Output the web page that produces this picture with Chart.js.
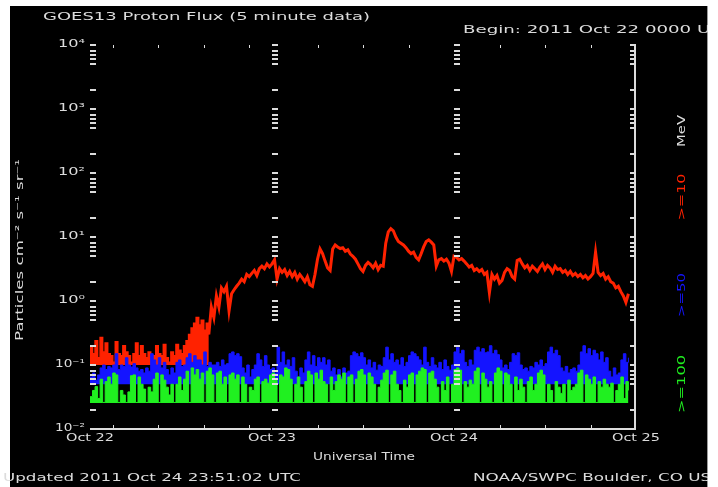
<!DOCTYPE html>
<html>
<head>
<meta charset="utf-8">
<script src="https://cdn.jsdelivr.net/npm/chart.js@4.4.0/dist/chart.umd.min.js"></script>
<style>
html,body{margin:0;padding:0;background:#fff;}
canvas{display:block;}
</style>
</head>
<body>
<canvas id="goes" width="718" height="487"></canvas>
<script>
'use strict'

// one value every 20 minutes from 2011 Oct 22 00:00 UTC
var stepHours = 1 / 3;
// the >=10 MeV trace is a dense noisy band until this sample
var bandEnd = 47;

var p10 = [
  0.2, 0.15, 0.24, 0.13, 0.27, 0.16, 0.22, 0.15, 0.14, 0.11, 0.23, 0.15,
  0.14, 0.2, 0.16, 0.14, 0.11, 0.15, 0.22, 0.14, 0.2, 0.15, 0.13, 0.16,
  0.11, 0.14, 0.2, 0.15, 0.14, 0.21, 0.13, 0.11, 0.16, 0.14, 0.21, 0.17,
  0.15, 0.2, 0.24, 0.3, 0.38, 0.45, 0.55, 0.42, 0.5, 0.35, 0.45, 0.3,
  0.8, 0.55, 1.2, 0.8, 1.6, 1.4, 1.7, 0.7, 1.3, 1.5, 1.7, 1.9,
  2.2, 2.0, 2.6, 2.4, 2.7, 3.0, 2.5, 3.2, 3.5, 3.2, 3.8, 3.4,
  3.8, 4.4, 2.2, 3.2, 2.8, 3.1, 2.5, 2.9, 2.4, 2.8, 2.2, 2.6,
  2.3, 2.0, 2.4, 1.8, 1.7, 2.6, 4.5, 6.5, 5.5, 4.2, 3.3, 3.0,
  6.5, 7.5, 7.0, 6.6, 6.8, 6.0, 6.3, 5.4, 5.0, 4.5, 3.8, 3.2,
  2.9, 3.6, 4.0, 3.7, 3.3, 3.9, 3.1, 3.6,
  3.5, 8.0, 12.0, 13.5, 12.5, 10.0, 8.5, 8.0,
  7.5, 6.8, 6.0, 5.5, 5.8, 4.8, 4.4,
  5.5, 7.0, 8.5, 9.0, 8.3, 7.5, 3.5, 4.4,
  4.6, 4.2, 4.5, 3.9, 2.9, 5.0, 4.8, 4.4, 4.6, 4.2,
  3.8, 3.4, 3.6, 3.0, 3.2, 2.9, 3.1, 2.6,
  2.8, 1.35, 2.6, 2.2, 2.5, 1.9, 2.1, 2.8, 3.2, 3.0,
  2.4, 2.2, 4.3, 4.5, 3.8, 3.3, 3.6, 3.0, 3.5, 3.2, 2.9, 3.4,
  3.8, 3.1, 3.6, 3.3, 2.8, 3.5, 3.1, 3.2, 2.8, 3.0, 2.6, 2.9,
  2.5, 2.7, 2.4, 2.6, 2.3, 2.5, 2.2, 2.4, 2.7, 5.8, 2.8, 2.5,
  2.7, 2.2, 2.4, 2.0, 1.9, 1.6, 1.7, 1.4, 1.2, 0.95, 1.3
];

var p50 = [
  0.065, 0.075, 0.058, 0.07, 0.09, 0.1, 0.085, 0.095, 0.09, 0.1, 0.15, 0.085,
  0.1, 0.095, 0.13, 0.1, 0.093, 0.105, 0.09, 0.08, 0.085, 0.075, 0.09, 0.08, 0.15,
  0.12, 0.1, 0.13, 0.09, 0.11, 0.085, 0.07, 0.09, 0.075, 0.11, 0.12, 0.095, 0.1,
  0.13, 0.15, 0.11, 0.14, 0.12, 0.12, 0.1, 0.16, 0.095, 0.11, 0.1,
  0.1, 0.11, 0.095, 0.12, 0.1, 0.105, 0.15, 0.16, 0.14, 0.15, 0.135,
  0.09, 0.075, 0.1, 0.065, 0.085, 0.1, 0.15, 0.12, 0.095, 0.14, 0.1,
  0.085, 0.09, 0.075, 0.19, 0.11, 0.16, 0.1, 0.12, 0.095, 0.13,
  0.08, 0.065, 0.09, 0.075, 0.12, 0.16, 0.1, 0.14, 0.095, 0.13,
  0.11, 0.13, 0.1, 0.12, 0.08, 0.09, 0.07, 0.085, 0.065, 0.09, 0.075, 0.08,
  0.14, 0.16, 0.15, 0.135, 0.155, 0.13, 0.1, 0.12, 0.09, 0.11, 0.083, 0.1, 0.095,
  0.13, 0.19, 0.12, 0.15, 0.11, 0.12, 0.1, 0.13, 0.095, 0.11,
  0.14, 0.16, 0.15, 0.135, 0.12, 0.1, 0.19, 0.11, 0.095, 0.13,
  0.1, 0.09, 0.11, 0.085, 0.12, 0.095, 0.083, 0.1,
  0.16, 0.19, 0.15, 0.17, 0.11, 0.095, 0.12, 0.1,
  0.17, 0.19, 0.16, 0.18, 0.155, 0.16, 0.2, 0.15, 0.17, 0.145,
  0.12, 0.09, 0.1, 0.085, 0.11, 0.15, 0.14, 0.155,
  0.1, 0.085, 0.09, 0.08, 0.095, 0.09, 0.11, 0.1, 0.12, 0.095, 0.105,
  0.16, 0.19, 0.15, 0.17, 0.14, 0.09, 0.08, 0.095, 0.075, 0.085, 0.09, 0.08, 0.1,
  0.16, 0.2, 0.15, 0.18, 0.14, 0.17, 0.15, 0.12, 0.16, 0.11, 0.13,
  0.08, 0.065, 0.09, 0.07, 0.075, 0.12, 0.15, 0.11, 0.13
];

var p100 = [
  0.032, 0.04, 0.046, 0.03, 0.06, 0.026, 0.055, 0.065, 0.05, 0.075, 0.07, 0.026,
  0.04, 0.034, 0.026, 0.038, 0.068, 0.07, 0.026, 0.065, 0.05, 0.042, 0.026, 0.045, 0.038,
  0.06, 0.075, 0.026, 0.07, 0.058, 0.045, 0.034, 0.05, 0.026, 0.05, 0.065, 0.04, 0.06,
  0.08, 0.026, 0.09, 0.07, 0.085, 0.06, 0.075, 0.026, 0.08, 0.09, 0.07, 0.026, 0.075,
  0.08, 0.05, 0.065, 0.026, 0.07, 0.075, 0.06, 0.07, 0.026, 0.065,
  0.05, 0.026, 0.045, 0.04, 0.06, 0.065, 0.026, 0.055, 0.06, 0.052,
  0.07, 0.075, 0.058, 0.026, 0.07, 0.065, 0.09, 0.085,
  0.06, 0.026, 0.05, 0.065, 0.045, 0.026, 0.055,
  0.08, 0.07, 0.026, 0.075, 0.06, 0.083, 0.055, 0.05, 0.026, 0.065, 0.04, 0.055,
  0.07, 0.06, 0.075, 0.026, 0.065, 0.07, 0.026, 0.06, 0.08, 0.085, 0.07, 0.026, 0.075, 0.065,
  0.05, 0.026, 0.045, 0.058, 0.075, 0.083, 0.026, 0.07, 0.08,
  0.05, 0.04, 0.026, 0.058, 0.045, 0.07, 0.075, 0.026, 0.07,
  0.08, 0.09, 0.085, 0.026, 0.075, 0.08,
  0.06, 0.045, 0.026, 0.055, 0.04, 0.065, 0.026, 0.05,
  0.085, 0.09, 0.083, 0.026, 0.055, 0.045, 0.058, 0.05,
  0.08, 0.09, 0.026, 0.075, 0.06, 0.045, 0.055, 0.026,
  0.075, 0.09, 0.08, 0.026, 0.075, 0.07, 0.05, 0.026, 0.065, 0.04,
  0.06, 0.045, 0.026, 0.055, 0.065, 0.04, 0.05, 0.075, 0.083, 0.07, 0.026,
  0.05, 0.04, 0.026, 0.055, 0.045, 0.036, 0.05, 0.026, 0.058, 0.04, 0.045, 0.05,
  0.075, 0.083, 0.026, 0.07, 0.06, 0.05, 0.065, 0.026, 0.055, 0.045, 0.06, 0.05,
  0.045, 0.052, 0.026, 0.04, 0.05, 0.065, 0.03, 0.055, 0.04
];

var decades = [-2, -1, 0, 1, 2, 3, 4];
var decadeLabels = ['10⁻²', '10⁻¹', '10⁰', '10¹', '10²', '10³', '10⁴'];
var minorMult = [2, 5, 6, 7, 8];
var dayHours = [0, 24, 48, 72];
var dayLabels = ['Oct 22', 'Oct 23', 'Oct 24', 'Oct 25'];
var tickHours = [3, 9, 15, 21, 30, 36, 42, 54, 60, 66];

function points(arr) {
  return arr.map(function (v, i) { return {x: i * stepHours, y: v}; });
}

function fitText(c, text, x, y, w, size, color, align, rot) {
  c.save();
  c.font = size + 'px "DejaVu Sans"';
  c.fillStyle = color;
  c.textBaseline = 'middle';
  c.textAlign = align || 'left';
  var mw = c.measureText(text).width;
  c.translate(x, y);
  if (rot) c.rotate(-Math.PI / 2);
  c.scale(w / mw, 1);
  c.fillText(text, 0, 0);
  c.restore();
}

var fg = '#dcdcdc';
var red = '#ff2200', blue = '#1414ff', green = '#20f020';

var frame = {
  id: 'frame',
  beforeDraw: function (chart) {
    var c = chart.ctx;
    c.save();
    c.fillStyle = '#fff';
    c.fillRect(0, 0, 718, 487);
    c.fillStyle = '#000';
    c.fillRect(10, 6, 698, 481);
    c.fillStyle = '#9a9a9a';
    c.fillRect(707, 6, 1, 481);
    c.restore();
  },
  afterDatasetsDraw: function (chart) {
    var c = chart.ctx, xs = chart.scales.x, ys = chart.scales.y, a = chart.chartArea;
    var d1 = Math.round(xs.getPixelForValue(24)), d2 = Math.round(xs.getPixelForValue(48));
    c.save();
    c.fillStyle = fg;
    // y ticks on left, at day boundaries and on the right
    decades.forEach(function (d) {
      var vals = [Math.pow(10, d)];
      if (d < 4) minorMult.forEach(function (m) { vals.push(m * Math.pow(10, d)); });
      vals.forEach(function (v) {
        var y = Math.round(ys.getPixelForValue(v));
        [a.left, d1, d2].forEach(function (x) { c.fillRect(x, y - 1, 6, 2); });
        c.fillRect(a.right - 6, y - 1, 6, 2);
      });
    });
    // bottom axis with breaks at the day boundaries
    var by = Math.round(a.bottom) - 1;
    c.fillRect(a.left, by, d1 - a.left - 1, 2);
    c.fillRect(d1 + 1, by, d2 - d1 - 2, 2);
    c.fillRect(d2 + 1, by, a.right - d2 - 1, 2);
    c.fillRect(Math.round(a.right) - 2, a.top, 2, a.bottom - a.top);
    tickHours.forEach(function (h) {
      var x = Math.round(xs.getPixelForValue(h));
      c.fillRect(x, by - 3, 1, 3);
      c.fillRect(x, a.top, 1, 3);
    });
    c.restore();

    decades.forEach(function (d, i) {
      var y = ys.getPixelForValue(Math.pow(10, d)) - 1;
      fitText(c, decadeLabels[i], 85, y, d < 0 ? 30 : 27, 10, fg, 'right');
    });
    dayHours.forEach(function (h, i) {
      fitText(c, dayLabels[i], xs.getPixelForValue(h), 438, 48, 10, fg, 'center');
    });
    fitText(c, 'Universal Time', 364, 457, 102, 10, fg, 'center');
    fitText(c, 'GOES13 Proton Flux (5 minute data)', 43, 17, 327, 10, fg, 'left');
    fitText(c, 'Begin: 2011 Oct 22 0000 UTC', 463, 30, 270, 10, fg, 'left');
    fitText(c, 'Particles cm⁻² s⁻¹ sr⁻¹', 20, 250, 182, 10, fg, 'center', true);
    fitText(c, 'MeV', 682, 131, 32, 10, fg, 'center', true);
    fitText(c, '>=10', 682, 197, 47, 10, red, 'center', true);
    fitText(c, '>=50', 682, 295, 44, 10, blue, 'center', true);
    fitText(c, '>=100', 682, 384, 58, 10, green, 'center', true);
    fitText(c, 'Updated 2011 Oct 24 23:51:02 UTC', 3, 478, 298, 10, fg, 'left');
    fitText(c, 'NOAA/SWPC Boulder, CO USA', 473, 478, 250, 10, fg, 'left');
    c.save();
    c.fillStyle = '#fff';
    c.fillRect(708, 0, 10, 487);
    c.restore();
  }
};

var p10pts = points(p10);

new Chart(document.getElementById('goes'), {
  type: 'line',
  data: {
    datasets: [{
      label: '>=10 MeV',
      data: p10pts.slice(0, bandEnd + 1),
      borderColor: red,
      backgroundColor: red,
      borderWidth: 1.5,
      stepped: true,
      fill: {value: 0.1},
      order: 4
    }, {
      label: '>=10 MeV',
      data: p10pts.slice(bandEnd),
      borderColor: red,
      borderWidth: 3,
      fill: false,
      order: 3
    }, {
      label: '>=50 MeV',
      data: points(p50),
      borderColor: blue,
      backgroundColor: blue,
      borderWidth: 1,
      stepped: true,
      fill: {value: 0.05},
      order: 2
    }, {
      label: '>=100 MeV',
      data: points(p100),
      borderColor: green,
      backgroundColor: green,
      borderWidth: 1,
      stepped: true,
      fill: {value: 0.0255},
      order: 1
    }]
  },
  options: {
    responsive: false,
    devicePixelRatio: 1,
    animation: false,
    layout: {padding: {left: 90, right: 82, top: 45, bottom: 58}},
    elements: {point: {radius: 0}, line: {tension: 0}},
    plugins: {legend: {display: false}, title: {display: false}, tooltip: {enabled: false}},
    scales: {
      x: {type: 'linear', min: 0, max: 72, display: false},
      y: {type: 'logarithmic', min: 0.01, max: 10000, display: false}
    }
  },
  plugins: [frame]
});
</script>
</body>
</html>
